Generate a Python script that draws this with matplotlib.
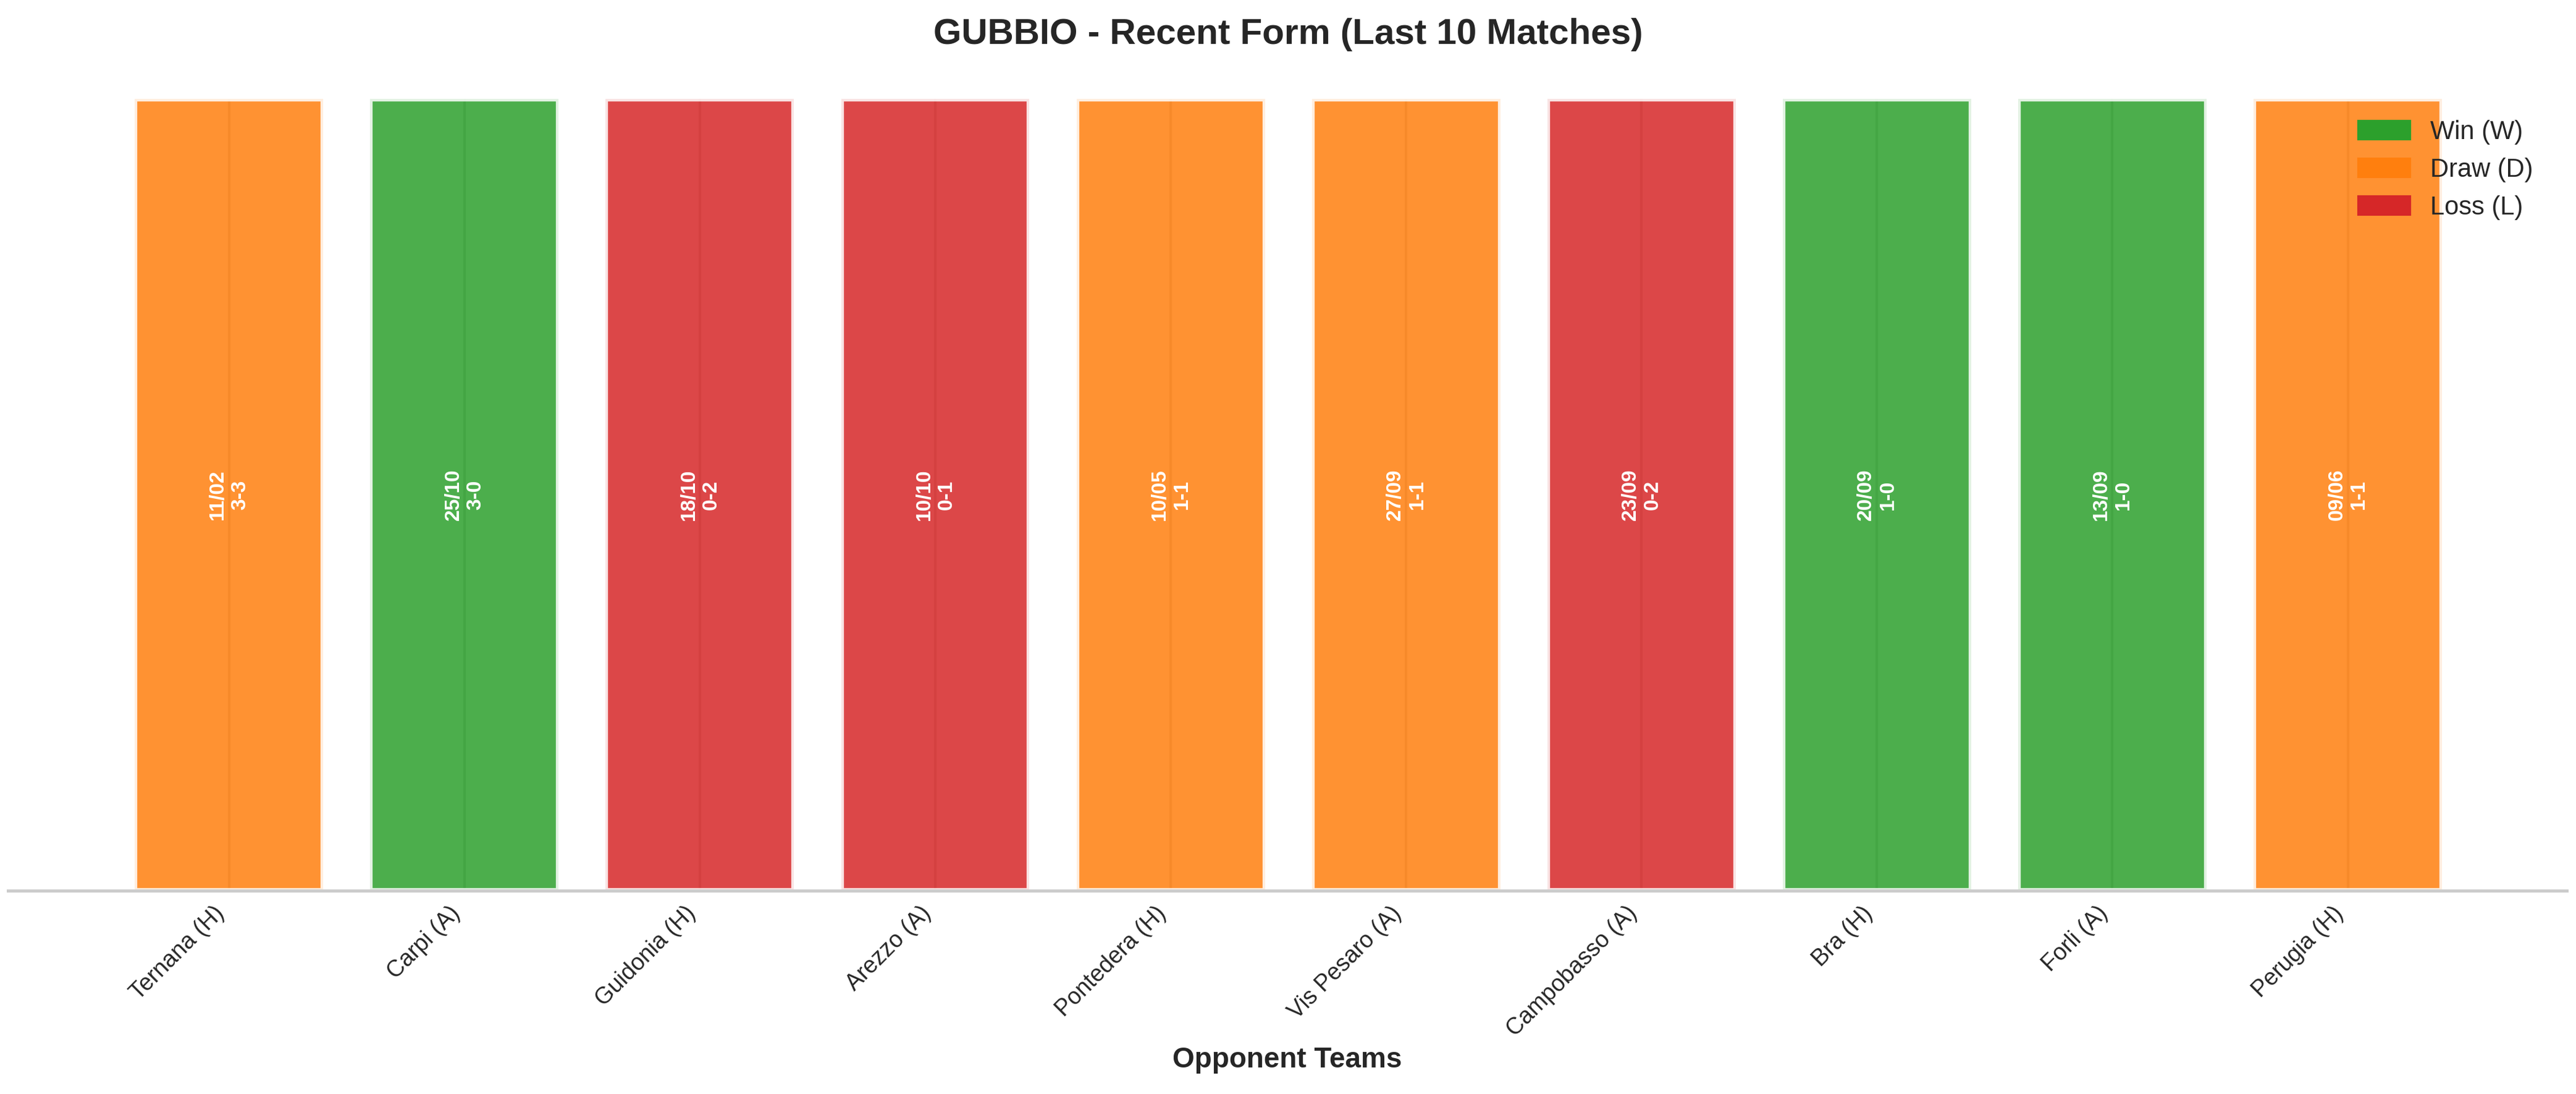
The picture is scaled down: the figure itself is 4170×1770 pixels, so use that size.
import matplotlib
matplotlib.use("Agg")
import matplotlib.pyplot as plt
import seaborn as sns
from matplotlib.patches import Patch

sns.set_theme(style="whitegrid")
plt.rcParams['font.family'] = ['Liberation Sans', 'DejaVu Sans']
plt.rcParams['text.color'] = '#262626'

teams = ['Ternana (H)', 'Carpi (A)', 'Guidonia (H)', 'Arezzo (A)', 'Pontedera (H)',
         'Vis Pesaro (A)', 'Campobasso (A)', 'Bra (H)', 'Forli (A)', 'Perugia (H)']
dates = ['11/02', '25/10', '18/10', '10/10', '10/05', '27/09', '23/09', '20/09', '13/09', '09/06']
scores = ['3-3', '3-0', '0-2', '0-1', '1-1', '1-1', '0-2', '1-0', '1-0', '1-1']
results = ['D', 'W', 'L', 'L', 'D', 'D', 'L', 'W', 'W', 'D']

colors_map = {'W': '#2ca02c', 'D': '#ff7f0e', 'L': '#d62728'}
legend_labels = {'W': 'Win (W)', 'D': 'Draw (D)', 'L': 'Loss (L)'}

fig = plt.figure(figsize=(13.9, 5.9), dpi=300)
ax = fig.add_axes([0.003, 0.186, 0.9934, 0.7236])

x = list(range(len(teams)))
bar_colors = [colors_map[r] for r in results]
ax.bar(x, [1] * len(teams), width=0.8, color=bar_colors, alpha=0.85,
       edgecolor='white', linewidth=2, zorder=2)

for i in x:
    ax.text(i, 0.5, f"{dates[i]}\n{scores[i]}", rotation=90, ha='center', va='center',
            color='white', fontsize=8, fontweight='bold', zorder=3)

ax.set_ylim(0, 1)
ax.set_xlim(-0.94, 9.93)
ax.set_yticks([])
ax.set_xticks(x)
ax.set_xticklabels(teams, rotation=45, ha='right', fontsize=9, color='#262626')
ax.tick_params(axis='x', length=0, pad=4.5)
ax.grid(axis='y', visible=False)
ax.grid(axis='x', color='#cccccc', linewidth=1, zorder=0)
ax.set_axisbelow(True)
for s in ['top', 'right', 'left']:
    ax.spines[s].set_visible(False)
ax.spines['bottom'].set_color('#cccccc')
ax.spines['bottom'].set_linewidth(1.2)

ax.set_xlabel('Opponent Teams', fontsize=11, fontweight='bold')
ax.xaxis.set_label_coords(0.5, -0.197)
fig.suptitle('GUBBIO - Recent Form (Last 10 Matches)', fontsize=14, fontweight='bold',
             x=0.5, y=0.9684, va='center')

handles = [Patch(color=colors_map[k], label=legend_labels[k]) for k in ['W', 'D', 'L']]
ax.legend(handles=handles, loc='upper right', frameon=False, fontsize=10,
          bbox_to_anchor=(0.996, 1.0025))

fig.savefig('out.png', dpi=300)
